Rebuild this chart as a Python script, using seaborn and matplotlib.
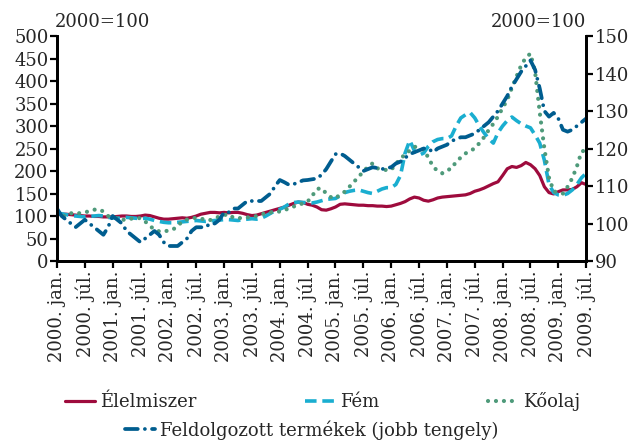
import numpy as np
import pandas as pd
import matplotlib
matplotlib.use("Agg")
import matplotlib.pyplot as plt
import seaborn as sns

# monthly index values, 2000 jan .. 2009 jul (2000=100)
elelmiszer = [103, 104, 104, 103, 102, 101, 100, 100, 99, 99, 98, 98,
              98, 99, 100, 100, 99, 99, 100, 102, 101, 98, 95, 93,
              93, 94, 95, 96, 95, 97, 100, 104, 106, 108, 108, 107,
              108, 107, 108, 108, 106, 103, 101, 102, 105, 108, 111, 114,
              117, 120, 124, 128, 131, 130, 126, 124, 120, 114, 113, 116,
              120, 126, 127, 126, 125, 124, 124, 123, 123, 122, 122, 121,
              122, 125, 128, 132, 138, 142, 140, 135, 133, 136, 140, 142,
              143, 144, 145, 146, 147, 150, 155, 158, 162, 167, 172, 176,
              190, 205, 210, 208, 212, 219, 214, 205, 190, 165, 152, 149,
              154, 158, 158, 159, 165, 174, 170]

fem = [106, 105, 103, 101, 100, 99, 98, 99, 100, 101, 100, 97,
       96, 95, 96, 97, 96, 95, 94, 95, 93, 90, 88, 86,
       85, 85, 86, 87, 88, 89, 90, 89, 88, 89, 90, 91,
       92, 92, 91, 90, 92, 93, 94, 93, 95, 100, 106, 112,
       115, 120, 127, 130, 131, 130, 130, 129, 131, 134, 137, 138,
       139, 145, 152, 155, 157, 158, 155, 152, 150, 155, 160, 163,
       163, 170, 190, 240, 268, 245, 235, 240, 255, 265, 270, 272,
       272, 278, 300, 318, 325, 330, 318, 300, 285, 272, 262, 285,
       300, 312, 320, 312, 305, 300, 296, 280, 262, 224, 170, 152,
       147, 146, 150, 158, 170, 185, 195]

koolaj = [91, 97, 103, 106, 107, 106, 108, 111, 114, 115, 110, 100,
          98, 95, 92, 91, 94, 96, 95, 88, 78, 70, 66, 65,
          68, 70, 78, 88, 92, 95, 96, 94, 92, 91, 95, 99,
          102, 104, 96, 95, 96, 97, 98, 100, 103, 107, 108, 109,
          110, 113, 117, 121, 125, 128, 132, 145, 160, 162, 150, 142,
          139, 148, 154, 165, 176, 188, 198, 210, 217, 206, 204, 202,
          202, 217, 225, 239, 245, 254, 252, 247, 230, 210, 200, 195,
          202, 205, 221, 230, 239, 245, 250, 262, 275, 291, 305, 321,
          340, 358, 385, 410, 435, 452, 461, 420, 330, 250, 185, 155,
          152, 150, 165, 184, 210, 243, 247]

feldolgozott = [104, 102, 101, 100, 99, 100, 101, 100, 99, 98, 97, 99,
                102, 101, 100, 98, 97, 96, 95, 96, 97, 98, 97, 95,
                94, 94, 94, 95, 96, 98, 99, 99, 99, 100, 100, 101,
                103, 103, 104, 104, 105, 106, 106, 106, 106, 107, 108, 110,
                111.6, 111, 110.3, 110.5, 111, 111.5, 111.6, 111.8, 112, 113, 114.5, 116.5,
                118.5, 118.7, 118, 117, 116, 115, 114, 114.5, 115, 114.8, 114.5, 114.8,
                115, 116, 116.5, 117.5, 118.5, 119, 119.5, 120, 120, 119, 120, 120.5,
                121, 122, 122.5, 123, 123, 123.5, 124, 125, 126, 127, 128.5, 130,
                132, 134, 136.5, 138.5, 140.5, 142, 143.5, 141, 136, 130, 128.5, 129.5,
                128, 125, 124.5, 125, 126, 127, 128]

years = list(range(2000, 2010))
tick_labels = [f"{y}. {m}" for y in years for m in ("jan.", "júl.")]

df = pd.DataFrame({"honap": np.arange(len(elelmiszer)),
                   "Élelmiszer": elelmiszer, "Fém": fem,
                   "Kőolaj": koolaj, "Feldolgozott": feldolgozott})

sns.set_style("white")
plt.rcParams['font.family'] = ['DejaVu Serif']
plt.rcParams['font.size'] = 13

RED = "#9e0b3d"
CYAN = "#1aaed0"
GREEN = "#4e9a7a"
BLUE = "#005d8f"

fig = plt.figure(figsize=(6.33, 4.42), dpi=100)
ax = fig.add_axes([0.090, 0.4095, 0.836, 0.509])
ax2 = ax.twinx()

sns.lineplot(data=df, x="honap", y="Élelmiszer", ax=ax, color=RED, lw=2.3,
             label="Élelmiszer")
sns.lineplot(data=df, x="honap", y="Fém", ax=ax, color=CYAN, lw=2.6,
             linestyle=(0, (3.2, 1.6)), label="Fém")
sns.lineplot(data=df, x="honap", y="Kőolaj", ax=ax, color=GREEN, lw=3.0,
             linestyle=(0, (0.01, 1.9)), dash_capstyle="round", label="Kőolaj")
sns.lineplot(data=df, x="honap", y="Feldolgozott", ax=ax2, color=BLUE, lw=2.7,
             linestyle=(0, (3.4, 1.9, 0.01, 1.9)), dash_capstyle="round",
             label="Feldolgozott termékek (jobb tengely)")

for a in (ax, ax2):
    if a.get_legend() is not None:
        a.get_legend().remove()
    a.set_xlabel("")
    a.set_ylabel("")

ax.set_xlim(0, len(elelmiszer) - 1)
ax.set_ylim(0, 500)
ax.set_yticks(range(0, 501, 50))
ax2.set_ylim(90, 150)
ax2.set_yticks(range(90, 151, 10))
ax.set_xticks(range(0, len(elelmiszer), 6))
ax.set_xticklabels(tick_labels, rotation=90)

for a in (ax, ax2):
    for s in a.spines.values():
        s.set_color("black")
        s.set_linewidth(2)
    a.spines["top"].set_visible(False)
    a.tick_params(axis="both", direction="out", length=5, width=1.6,
                  color="black", labelsize=13, pad=1)
ax.tick_params(axis="y", left=True, right=False)
ax.tick_params(axis="x", bottom=True, pad=2)
ax2.tick_params(axis="y", right=True, left=False)
ax.grid(False)
ax2.grid(False)

fig.text(0.087, 0.95, "2000=100", ha="left", va="center", fontsize=13)
fig.text(0.926, 0.95, "2000=100", ha="right", va="center", fontsize=13)

h1 = ax.get_lines()[:3]
h2 = ax2.get_lines()[:1]
fig.legend(h1, ["Élelmiszer", "Fém", "Kőolaj"], loc="center",
           bbox_to_anchor=(0.51, 0.092), ncol=3, frameon=False,
           handlelength=1.65, handletextpad=0.3, columnspacing=6.0,
           fontsize=13)
fig.legend(h2, ["Feldolgozott termékek (jobb tengely)"], loc="center",
           bbox_to_anchor=(0.493, 0.027), frameon=False,
           handlelength=1.65, handletextpad=0.3, fontsize=13)

fig.savefig("out.png", dpi=100)
